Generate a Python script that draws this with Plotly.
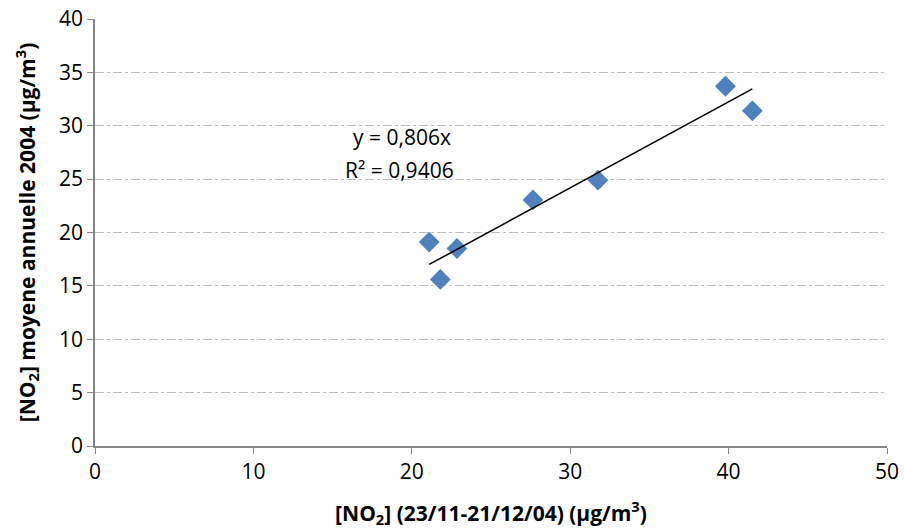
import plotly.graph_objects as go

x_no2_campaign = [21.1, 21.8, 22.85, 27.65, 31.75, 39.8, 41.5]
y_no2_annual = [19.1, 15.6, 18.5, 23.05, 24.9, 33.7, 31.4]
trend_slope = 0.806
r_squared = "0,9406"
x_ticks = [0, 10, 20, 30, 40, 50]
y_ticks = [0, 5, 10, 15, 20, 25, 30, 35, 40]

FONT = "Open Sans"
xt = [min(x_no2_campaign), max(x_no2_campaign)]
yt = [trend_slope * v for v in xt]

fig = go.Figure()
fig.add_trace(go.Scatter(
    x=x_no2_campaign, y=y_no2_annual, mode="markers",
    marker=dict(symbol="diamond", size=16, color="#4F81BD", line=dict(width=0)),
    showlegend=False))
fig.add_trace(go.Scatter(
    x=xt, y=yt, mode="lines", line=dict(color="black", width=1.5),
    showlegend=False))

fig.add_annotation(x=0.387, y=0.724, xref="paper", yref="paper",
                   xanchor="center", yanchor="middle",
                   text="y = 0,806x", showarrow=False,
                   font=dict(family=FONT, size=21, color="#000"))
fig.add_annotation(x=0.384, y=0.646, xref="paper", yref="paper",
                   xanchor="center", yanchor="middle",
                   text="R² = " + r_squared, showarrow=False,
                   font=dict(family=FONT, size=21, color="#000"))

axis_common = dict(showline=True, linecolor="#868686", linewidth=1.5,
                   ticks="outside", tickcolor="#868686", ticklen=6,
                   tickfont=dict(family=FONT, size=21, color="#000"),
                   zeroline=False)

fig.update_xaxes(range=[0, 50], tickvals=x_ticks, showgrid=False,
                 title=dict(text="<b>[NO<sub>2</sub>] (23/11-21/12/04) (µg/m<sup>3</sup>)</b>",
                            font=dict(family=FONT, size=21, color="#000"), standoff=22),
                 **axis_common)
fig.update_yaxes(range=[0, 40], tickvals=y_ticks, showgrid=True,
                 gridcolor="#BEBEBE", griddash="dashdot", gridwidth=1,
                 title=dict(text="<b>[NO<sub>2</sub>] moyene annuelle 2004 (µg/m<sup>3</sup>)</b>",
                            font=dict(family=FONT, size=21, color="#000"), standoff=18),
                 **axis_common)

fig.update_layout(width=904, height=531, paper_bgcolor="white", plot_bgcolor="white",
                  margin=dict(l=95, r=17, t=19, b=85, autoexpand=False))
fig.write_html("out.html")
